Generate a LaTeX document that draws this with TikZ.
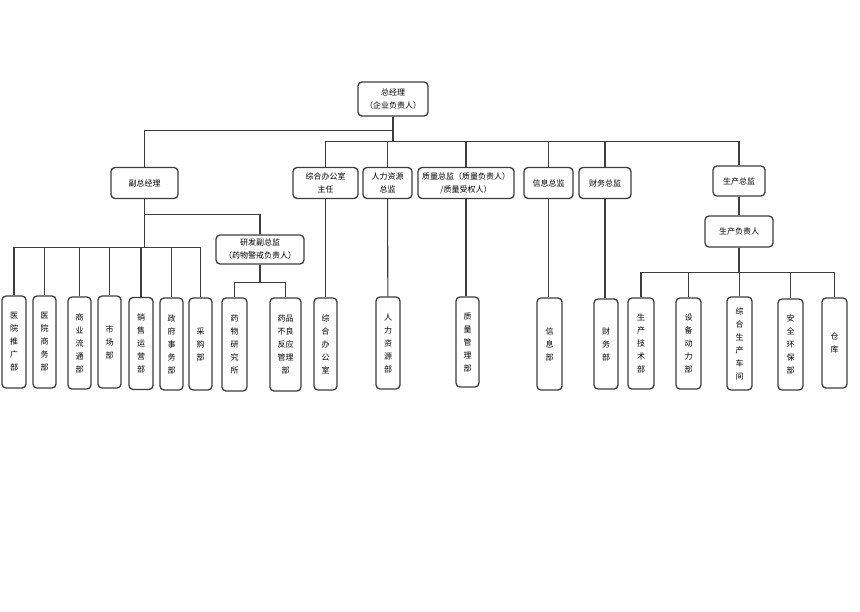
\documentclass[tikz,border=0pt]{standalone}
\usepackage{fontspec}
\newfontfamily\cjk{Noto Sans CJK SC}
\usetikzlibrary{positioning}
\definecolor{linegray}{RGB}{60,60,60}
\tikzset{
  box/.style={draw=linegray, line width=1.3pt, rounded corners=4pt, fill=white,
    align=center, inner sep=0pt, font=\cjk\fontsize{8}{13}\selectfont},
  dept/.style={box, minimum width=24pt, minimum height=92pt},
  conn/.style={draw=linegray, line width=1.1pt}
}

\begin{document}
\begin{tikzpicture}[x=1pt, y=-1pt]
    \fill[white] (0,0) rectangle (860,612);
    \useasboundingbox (0,0) rectangle (860,612);
    % top
    \node[box, minimum width=70pt, minimum height=34pt] (ceo) at (393,99) {总经理\\（企业负责人）};
    % second row
    \node[box, minimum width=67pt, minimum height=31pt] (vgm) at (144.5,183) {副总经理};
    \node[box, minimum width=65pt, minimum height=31pt] (office) at (325.5,183) {综合办公室\\主任};
    \node[box, minimum width=49pt, minimum height=31pt] (hr) at (387.5,183) {人力资源\\总监};
    \node[box, minimum width=96pt, minimum height=31pt] (qa) at (466,183) {质量总监（质量负责人）\\/质量受权人）};
    \node[box, minimum width=49pt, minimum height=31pt] (info) at (548.5,183) {信息总监};
    \node[box, minimum width=52pt, minimum height=31pt] (fin) at (605,183) {财务总监};
    \node[box, minimum width=52pt, minimum height=30pt] (prod) at (739,181) {生产总监};
    \node[box, minimum width=88pt, minimum height=29pt] (rd) at (260,249.5) {研发副总监\\（药物警戒负责人）};
    \node[box, minimum width=68pt, minimum height=31pt] (pm) at (739,231.5) {生产负责人};
    % departments
    \node[dept] (d1) at (14,342) {医\\院\\推\\广\\部};
    \node[dept, minimum width=23pt] (d2) at (44.5,342) {医\\院\\商\\务\\部};
    \node[dept, minimum width=23pt] (d3) at (79.5,343) {商\\业\\流\\通\\部};
    \node[dept, minimum width=23pt] (d4) at (109.5,342) {市\\场\\部};
    \node[dept] (d5) at (141,343.5) {销\\售\\运\\营\\部};
    \node[dept, minimum width=23pt] (d6) at (171.5,344) {政\\府\\事\\务\\部};
    \node[dept, minimum width=23pt] (d7) at (200.5,344) {采\\购\\部};
    \node[dept, minimum width=25pt, minimum height=93pt] (rdA) at (234.5,344.5) {药\\物\\研\\究\\所};
    \node[dept, minimum width=31pt, minimum height=93pt] (rdB) at (285.5,344.5) {药品\\不良\\反应\\管理\\部};
    \node[dept, minimum width=23pt] (officeD) at (325.5,344) {综\\合\\办\\公\\室};
    \node[dept] (hrD) at (388,343) {人\\力\\资\\源\\部};
    \node[dept, minimum width=23pt, minimum height=90pt] (qaD) at (467.5,342) {质\\量\\管\\理\\部};
    \node[dept, minimum width=25pt] (infoD) at (549.5,344) {信\\息\\部};
    \node[dept, minimum height=90pt] (finD) at (606,344) {财\\务\\部};
    \node[dept, minimum width=26pt, minimum height=91pt] (p1) at (641,343.5) {生\\产\\技\\术\\部};
    \node[dept, minimum width=25pt, minimum height=91pt] (p2) at (688.5,343.5) {设\\备\\动\\力\\部};
    \node[dept, minimum width=25pt, minimum height=93pt] (p3) at (739.5,343.5) {综\\合\\生\\产\\车\\间};
    \node[dept, minimum width=25pt, minimum height=91pt] (p4) at (790.5,344.5) {安\\全\\环\\保\\部};
    \node[dept, minimum width=25pt, minimum height=90pt] (p5) at (834.5,343) {仓\\库};
    % connectors
    \draw[conn] (ceo.south) -- ++(0,14) -| (vgm.north);
    \foreach \n in {office,hr,qa,info,fin,prod}
        \draw[conn] (ceo.south) -- ++(0,25) -| (\n.north);
    \foreach \n in {d1,d2,d3,d4,d5,d6,d7}
        \draw[conn] (vgm.south) -- ++(0,48.5) -| (\n.north);
    \draw[conn] (vgm.south) -- ++(0,15.5) -| (rd.north);
    \foreach \n in {rdA,rdB}
        \draw[conn] (rd.south) -- ++(0,18) -| (\n.north);
    \draw[conn] (office) -- (officeD);
    \draw[conn] (hr) -- (hrD);
    \draw[conn] (qa.south) -- (qa.south |- qaD.north);
    \draw[conn] (info.south) -- (info.south |- infoD.north);
    \draw[conn] (fin.south) -- (fin.south |- finD.north);
    \draw[conn] (prod) -- (pm);
    \foreach \n in {p1,p2,p3,p4,p5}
        \draw[conn] (pm.south) -- ++(0,25) -| (\n.north);
\end{tikzpicture}
\end{document}
